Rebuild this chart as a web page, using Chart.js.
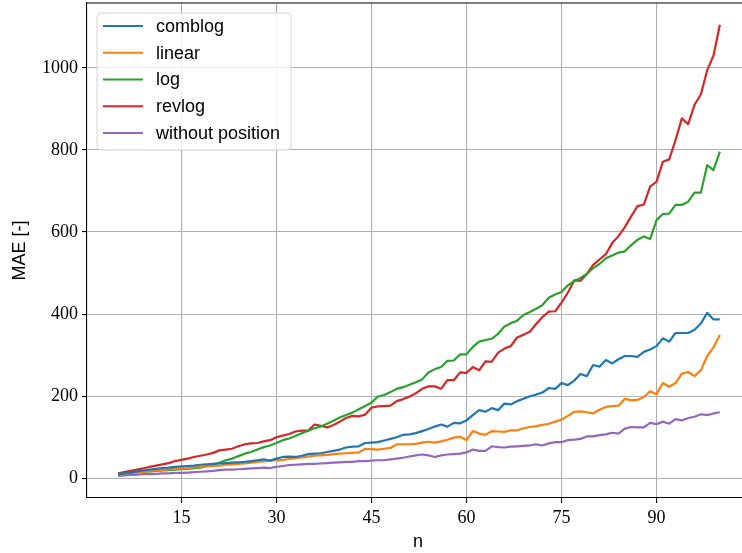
<!DOCTYPE html>
<html>
<head>
<meta charset="utf-8">
<title>MAE vs n</title>
<script src="https://cdn.jsdelivr.net/npm/chart.js@4/dist/chart.umd.min.js"></script>
<style>
  html, body { margin: 0; padding: 0; background: #fff; overflow: hidden; }
  #wrap { width: 760px; height: 553px; }
</style>
</head>
<body>
<div id="wrap"><canvas id="maeChart" width="760" height="553"></canvas></div>
<script>
// sequence length n
const nValues = [5, 6, 7, 8, 9, 10, 11, 12, 13, 14, 15, 16, 17, 18, 19, 20, 21, 22, 23, 24,
  25, 26, 27, 28, 29, 30, 31, 32, 33, 34, 35, 36, 37, 38, 39, 40, 41, 42, 43, 44,
  45, 46, 47, 48, 49, 50, 51, 52, 53, 54, 55, 56, 57, 58, 59, 60, 61, 62, 63, 64,
  65, 66, 67, 68, 69, 70, 71, 72, 73, 74, 75, 76, 77, 78, 79, 80, 81, 82, 83, 84,
  85, 86, 87, 88, 89, 90, 91, 92, 93, 94, 95, 96, 97, 98, 99, 100];

const comblog = [10, 12, 14, 17, 19, 21, 23, 25, 26, 28, 29, 30, 31, 33, 34, 35, 36, 37, 38, 39,
  40, 42, 44, 46, 43, 48, 52, 53, 52, 55, 59, 60, 61, 64, 67, 70, 75, 77, 78, 86,
  87, 88, 92, 96, 100, 106, 107, 110, 115, 120, 126, 131, 126, 135, 134, 141, 154, 166, 162, 171,
  166, 182, 180, 188, 194, 200, 204, 209, 220, 218, 232, 227, 238, 254, 249, 276, 272, 288, 280, 290,
  298, 298, 296, 308, 314, 322, 341, 333, 354, 354, 354, 362, 377, 403, 387, 387];

const linear = [10, 11, 13, 14, 16, 17, 19, 20, 22, 23, 24, 25, 27, 28, 29, 30, 31, 33, 34, 35,
  36, 38, 40, 41, 43, 44, 45, 47, 49, 51, 53, 55, 56, 57, 59, 60, 61, 62, 63, 72,
  71, 70, 72, 74, 83, 83, 83, 84, 87, 89, 87, 90, 94, 99, 101, 93, 115, 109, 106, 115,
  114, 113, 117, 117, 122, 125, 127, 130, 133, 138, 143, 152, 162, 163, 161, 158, 167, 174, 176, 177,
  194, 190, 191, 198, 212, 205, 232, 223, 232, 255, 259, 249, 263, 298, 319, 349];

const logSeries = [10, 12, 13, 15, 16, 17, 18, 19, 20, 21, 22, 23, 25, 26, 30, 34, 38, 44, 48, 54,
  60, 64, 70, 76, 80, 86, 93, 97, 103, 110, 116, 122, 126, 133, 140, 148, 154, 160, 168, 176,
  184, 199, 203, 210, 218, 222, 228, 234, 241, 258, 266, 271, 286, 287, 302, 302, 320, 333, 337, 340,
  352, 370, 378, 384, 398, 405, 413, 422, 440, 448, 454, 470, 480, 488, 498, 512, 522, 536, 543, 550,
  553, 568, 581, 589, 583, 629, 644, 645, 666, 666, 674, 696, 696, 763, 751, 796];

const revlog = [12, 15, 18, 21, 24, 28, 31, 34, 37, 42, 45, 48, 52, 55, 58, 62, 68, 70, 72, 78,
  83, 85, 86, 90, 93, 100, 104, 108, 114, 116, 116, 131, 128, 124, 130, 138, 147, 152, 151, 155,
  172, 175, 176, 177, 188, 193, 199, 207, 218, 224, 224, 218, 239, 239, 258, 257, 271, 263, 285, 284,
  306, 316, 322, 343, 350, 357, 376, 393, 406, 407, 428, 452, 482, 481, 498, 520, 533, 546, 573, 590,
  612, 638, 663, 667, 711, 722, 771, 777, 824, 877, 863, 910, 935, 994, 1030, 1105];

const withoutPosition = [6, 7, 8, 9, 10, 10, 11, 12, 12, 13, 13, 14, 15, 16, 17, 18, 20, 21, 21, 22,
  23, 24, 25, 26, 25, 28, 30, 32, 33, 34, 35, 35, 36, 37, 38, 39, 40, 40, 42, 42,
  43, 44, 44, 46, 48, 50, 53, 56, 58, 56, 52, 56, 58, 59, 60, 63, 70, 67, 67, 78,
  76, 75, 77, 78, 79, 80, 83, 80, 85, 88, 88, 93, 94, 96, 102, 102, 105, 107, 111, 109,
  121, 125, 124, 124, 135, 132, 138, 133, 144, 141, 147, 150, 156, 154, 158, 161];

const seriesNames = ['comblog', 'linear', 'log', 'revlog', 'without position'];
const seriesColors = ['#1f77b4', '#ff7f0e', '#2ca02c', '#d62728', '#9467bd'];
const xTicks = [15, 30, 45, 60, 75, 90];
const yTicks = [0, 200, 400, 600, 800, 1000];

const allSeries = [comblog, linear, logSeries, revlog, withoutPosition];

const datasets = allSeries.map((vals, i) => ({
  label: seriesNames[i],
  data: vals.map((v, k) => ({x: nValues[k], y: v})),
  borderColor: seriesColors[i],
  backgroundColor: seriesColors[i],
  borderWidth: 2.2,
  borderJoinStyle: 'round',
  pointRadius: 0,
  tension: 0,
  fill: false
}));

// top/right spines (chart.js only draws the axis borders)
const framePlugin = {
  id: 'frame',
  afterDraw(chart) {
    const {ctx, chartArea: a} = chart;
    ctx.save();
    ctx.strokeStyle = '#000';
    ctx.lineWidth = 1.1;
    ctx.beginPath();
    ctx.moveTo(a.left, a.top);
    ctx.lineTo(a.right, a.top);
    ctx.lineTo(a.right, a.bottom);
    ctx.stroke();
    ctx.restore();
  }
};

// legend box in the upper left of the plot
const boxLegend = {
  id: 'boxLegend',
  afterDraw(chart) {
    const ctx = chart.ctx;
    const x = 97, y = 13, w = 194, h = 137, r = 4;
    ctx.save();
    ctx.beginPath();
    ctx.moveTo(x + r, y);
    ctx.arcTo(x + w, y, x + w, y + h, r);
    ctx.arcTo(x + w, y + h, x, y + h, r);
    ctx.arcTo(x, y + h, x, y, r);
    ctx.arcTo(x, y, x + w, y, r);
    ctx.closePath();
    ctx.fillStyle = 'rgba(255,255,255,0.8)';
    ctx.fill();
    ctx.strokeStyle = 'rgba(204,204,204,0.8)';
    ctx.lineWidth = 1;
    ctx.stroke();

    ctx.font = '18px "Liberation Sans", Arial, sans-serif';
    ctx.textBaseline = 'middle';
    ctx.textAlign = 'left';
    chart.data.datasets.forEach((ds, i) => {
      const ly = 26 + i * 26.75;
      ctx.strokeStyle = ds.borderColor;
      ctx.lineWidth = 2.2;
      ctx.beginPath();
      ctx.moveTo(103, ly);
      ctx.lineTo(143, ly);
      ctx.stroke();
      ctx.fillStyle = '#000';
      ctx.fillText(ds.label, 156, ly + 1);
    });
    ctx.restore();
  }
};

const ctx = document.getElementById('maeChart').getContext('2d');
new Chart(ctx, {
  type: 'line',
  data: {datasets: datasets},
  options: {
    responsive: false,
    animation: false,
    devicePixelRatio: 1,
    layout: {padding: {top: 3, right: 11, left: 0, bottom: 0}},
    plugins: {
      legend: {display: false},
      tooltip: {enabled: false}
    },
    scales: {
      x: {
        type: 'linear',
        min: 0.1,
        max: 104.6,
        afterBuildTicks: scale => { scale.ticks = xTicks.map(v => ({value: v})); },
        afterFit: scale => { scale.height = 55; scale.paddingLeft = 0; scale.paddingRight = 0; },
        grid: {color: '#b0b0b0', lineWidth: 1.1, tickColor: '#000', tickLength: 5},
        border: {display: true, color: '#000', width: 1.1},
        ticks: {
          color: '#000',
          padding: 4,
          maxRotation: 0,
          callback: v => String(v),
          font: {family: '"Liberation Serif", "DejaVu Serif", serif', size: 18}
        },
        title: {
          display: true,
          text: 'n',
          color: '#000',
          padding: {top: 0, bottom: 0},
          font: {family: '"Liberation Sans", Arial, sans-serif', size: 18}
        }
      },
      y: {
        min: -48,
        max: 1158,
        afterBuildTicks: scale => { scale.ticks = yTicks.map(v => ({value: v})); },
        afterFit: scale => { scale.width = 87; scale.paddingTop = 0; scale.paddingBottom = 0; },
        grid: {color: '#b0b0b0', lineWidth: 1.1, tickColor: '#000', tickLength: 5},
        border: {display: true, color: '#000', width: 1.1},
        ticks: {
          color: '#000',
          padding: 4,
          callback: v => String(v),
          font: {family: '"Liberation Serif", "DejaVu Serif", serif', size: 18}
        },
        title: {
          display: true,
          text: 'MAE [-]',
          color: '#000',
          padding: {top: 9, bottom: 0},
          font: {family: '"Liberation Sans", Arial, sans-serif', size: 18}
        }
      }
    }
  },
  plugins: [framePlugin, boxLegend]
});
</script>
</body>
</html>
